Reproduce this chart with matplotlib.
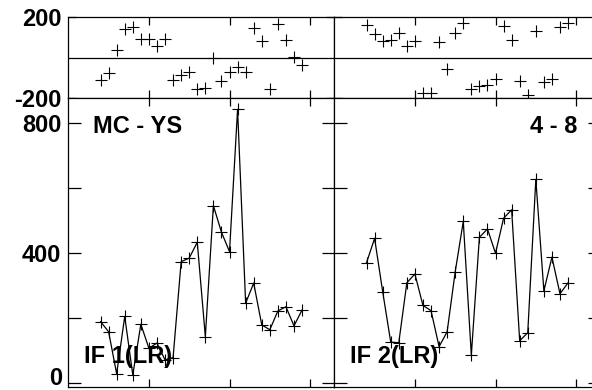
import matplotlib
matplotlib.use("Agg")
import matplotlib.pyplot as plt

plt.rcParams['font.family'] = ['Liberation Sans', 'DejaVu Sans']
plt.rcParams['font.weight'] = 'bold'
plt.rcParams['axes.unicode_minus'] = False

# observation index
x = list(range(4, 30))

# left panel (MC - YS, IF 1)
left_vals = [188, 157, 27, 204, 24, 180, 106, 122, 70, 77, 373, 384, 433, 142,
             546, 464, 404, 843, 245, 307, 178, 163, 221, 234, 175, 224]
left_resid = [-110, -74, 37, 144, 154, 94, 94, 60, 94, -110, -85, -68, -152, -147,
              -2, -115, -68, -43, -68, 149, 82, -152, 165, 87, 4, -38]

# right panel (4 - 8, IF 2)
right_vals = [370, 445, 281, 125, 123, 308, 335, 238, 222, 111, 157, 342, 497, 85,
              448, 474, 399, 507, 533, 129, 154, 627, 283, 387, 274, 308]
right_resid = [160, 118, 82, 90, 120, 57, 85, -172, -172, 77, -55, 124, 170, -155,
               -140, -132, -105, 157, 87, -114, -185, 132, -118, -107, 154, 174]

panel_titles = ["MC - YS", "4 - 8"]
panel_labels = ["IF 1(LR)", "IF 2(LR)"]

fig = plt.figure(figsize=(5.92, 3.90), dpi=100)

W, H = 592.0, 390.0
pw = 266 / W
lefts = [68.3 / W, 334.3 / W]
top_b, top_h = 1 - 98.3 / H, 81 / H
bot_b, bot_h = 1 - 386.5 / H, 288.2 / H

FS = 17
lw = 0.9

def style(ax, ylen):
    ax.set_xlim(0, 33)
    ax.set_xticks([10, 20, 30])
    ax.tick_params(axis='x', direction='in', length=6, width=lw, top=True,
                   bottom=True, labelbottom=False)
    ax.tick_params(axis='y', direction='in', length=ylen, width=lw, left=True,
                   right=True, labelsize=FS, pad=5)
    for s in ax.spines.values():
        s.set_linewidth(lw)

for i, (vals, resid) in enumerate([(left_vals, left_resid), (right_vals, right_resid)]):
    # residual strip
    at = fig.add_axes([lefts[i], top_b, pw, top_h])
    at.plot(x, resid, ls='none', marker='+', ms=9, mew=0.8, color='black')
    at.axhline(0, color='black', lw=lw)
    at.set_ylim(-200, 200)
    at.set_yticks([-200, 200])
    style(at, 6)
    if i == 1:
        at.set_yticklabels([])

    # main panel
    ab = fig.add_axes([lefts[i], bot_b, pw, bot_h])
    ab.plot(x, vals, color='black', lw=lw, marker='+', ms=9, mew=0.8)
    ab.set_ylim(-12, 877)
    ab.set_yticks([0, 200, 400, 600, 800])
    if i == 0:
        ab.set_yticklabels(['', '', '400', '', '800'])
        # "0" sits on the bottom edge, place it by hand so it stays inside
        ab.text(-6 / 266, -8, '0', transform=ab.get_yaxis_transform(),
                fontsize=FS, fontweight='bold', ha='right', va='baseline')
    else:
        ab.set_yticklabels([])
    style(ab, 9)

    if i == 0:
        ab.text(3.05, 770, panel_titles[i], fontsize=FS, fontweight='bold',
                ha='left', va='baseline')
    else:
        ab.text(30.1, 770, panel_titles[i], fontsize=FS, fontweight='bold',
                ha='right', va='baseline')
    ab.text(1.9, 61, panel_labels[i], fontsize=FS, fontweight='bold',
            ha='left', va='baseline')

fig.savefig("out.png", dpi=100)
